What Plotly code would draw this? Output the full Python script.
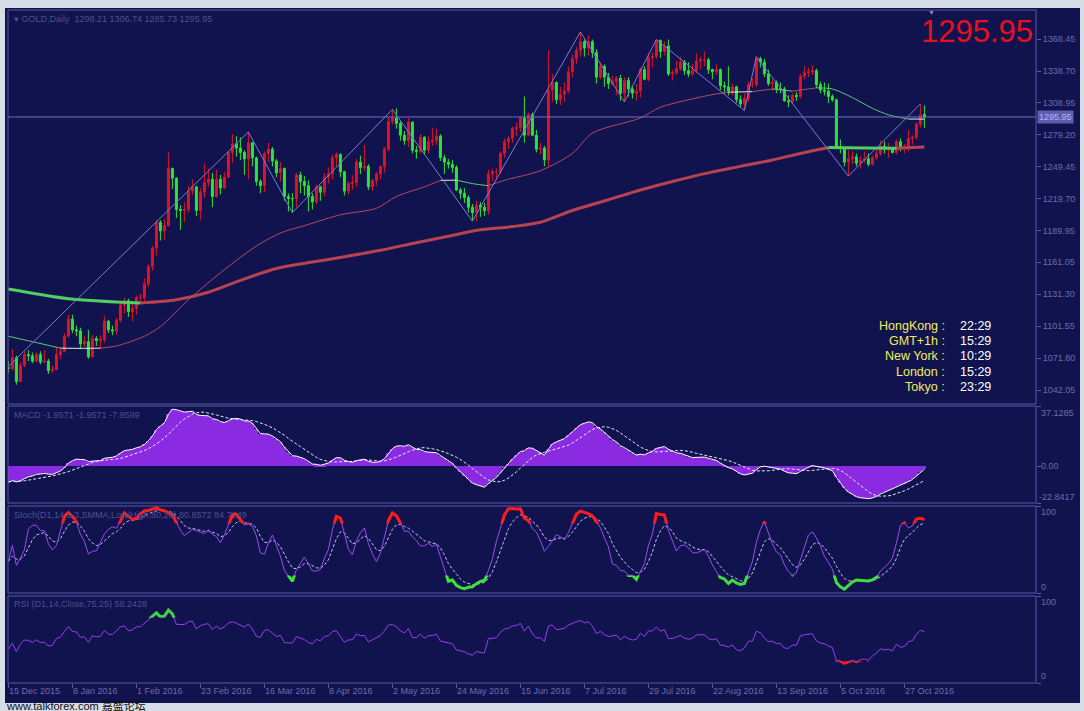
import plotly.graph_objects as go
import numpy as np
import pandas as pd

# ---------------- data ----------------
tick_labels = ["15 Dec 2015", "8 Jan 2016", "1 Feb 2016", "23 Feb 2016", "16 Mar 2016",
               "8 Apr 2016", "2 May 2016", "24 May 2016", "15 Jun 2016", "7 Jul 2016",
               "29 Jul 2016", "22 Aug 2016", "13 Sep 2016", "5 Oct 2016", "27 Oct 2016"]
tick_bars = [0, 16, 32, 48, 64, 80, 96, 112, 128, 144, 160, 176, 192, 208, 224]

open_ = [1063, 1062, 1072, 1050, 1065, 1075, 1074, 1069, 1075, 1068,
         1069, 1060, 1061, 1075, 1078, 1092, 1108, 1098, 1097, 1085,
         1087, 1073, 1090, 1088, 1089, 1106, 1098, 1097, 1107, 1121,
         1125, 1115, 1118, 1128, 1128, 1141, 1157, 1174, 1198, 1190,
         1195, 1248, 1239, 1210, 1209, 1210, 1227, 1231, 1209, 1226,
         1235, 1238, 1222, 1238, 1230, 1240, 1263, 1271, 1267, 1263,
         1257, 1272, 1258, 1236, 1232, 1262, 1266, 1255, 1244, 1248,
         1222, 1220, 1220, 1242, 1236, 1232, 1222, 1217, 1231, 1226,
         1240, 1243, 1258, 1261, 1245, 1227, 1234, 1235, 1254, 1249,
         1250, 1231, 1237, 1243, 1250, 1266, 1292, 1295, 1290, 1279,
         1274, 1291, 1265, 1264, 1277, 1265, 1273, 1274, 1278, 1258,
         1254, 1252, 1249, 1228, 1225, 1221, 1212, 1207, 1214, 1212,
         1209, 1243, 1245, 1245, 1262, 1273, 1276, 1285, 1286, 1295,
         1279, 1298, 1279, 1266, 1267, 1256, 1321, 1328, 1312, 1317,
         1320, 1338, 1350, 1358, 1366, 1360, 1366, 1356, 1333, 1343,
         1333, 1327, 1329, 1332, 1318, 1330, 1322, 1318, 1320, 1340,
         1331, 1351, 1352, 1367, 1357, 1362, 1336, 1337, 1341, 1347,
         1339, 1336, 1339, 1348, 1349, 1349, 1340, 1338, 1340, 1325,
         1324, 1320, 1324, 1312, 1308, 1313, 1326, 1326, 1350, 1347,
         1336, 1327, 1328, 1322, 1322, 1311, 1310, 1316, 1315, 1334,
         1337, 1338, 1339, 1326, 1321, 1320, 1315, 1312, 1268, 1267,
         1254, 1257, 1259, 1253, 1256, 1257, 1252, 1258, 1262, 1269,
         1266, 1267, 1263, 1273, 1267, 1268, 1276, 1277, 1289, 1298.21]
high = [1069, 1080, 1074, 1068, 1078, 1079, 1077, 1077, 1078, 1079,
        1071, 1065, 1082, 1081, 1095, 1112, 1112, 1102, 1100, 1092,
        1098, 1093, 1092, 1093, 1111, 1107, 1102, 1109, 1125, 1128,
        1127, 1125, 1130, 1132, 1146, 1159, 1176, 1200, 1200, 1201,
        1263, 1249, 1240, 1214, 1217, 1232, 1238, 1232, 1230, 1253,
        1248, 1244, 1247, 1242, 1245, 1264, 1280, 1278, 1277, 1265,
        1282, 1273, 1259, 1238, 1264, 1272, 1268, 1257, 1254, 1249,
        1225, 1225, 1244, 1245, 1241, 1237, 1225, 1233, 1232, 1244,
        1249, 1261, 1263, 1262, 1246, 1236, 1242, 1257, 1260, 1270,
        1252, 1238, 1245, 1251, 1268, 1296, 1303, 1304, 1292, 1283,
        1295, 1292, 1269, 1280, 1278, 1278, 1286, 1285, 1280, 1261,
        1257, 1256, 1251, 1230, 1230, 1223, 1215, 1218, 1217, 1216,
        1247, 1248, 1248, 1264, 1276, 1278, 1287, 1291, 1297, 1315,
        1300, 1300, 1284, 1272, 1269, 1358, 1336, 1329, 1324, 1328,
        1343, 1354, 1361, 1375, 1368, 1372, 1368, 1359, 1347, 1345,
        1337, 1334, 1334, 1335, 1333, 1333, 1325, 1327, 1342, 1343,
        1355, 1356, 1368, 1368, 1366, 1368, 1340, 1348, 1352, 1349,
        1347, 1345, 1355, 1352, 1357, 1351, 1341, 1345, 1341, 1329,
        1343, 1327, 1325, 1316, 1318, 1329, 1332, 1352, 1352, 1350,
        1340, 1331, 1330, 1328, 1324, 1316, 1318, 1319, 1336, 1343,
        1342, 1344, 1341, 1329, 1328, 1327, 1317, 1313, 1275, 1268,
        1265, 1264, 1262, 1260, 1264, 1262, 1260, 1266, 1274, 1273,
        1272, 1268, 1275, 1276, 1271, 1284, 1279, 1291, 1308, 1306.74]
low = [1058, 1060, 1047, 1049, 1063, 1069, 1067, 1068, 1066, 1067,
       1057, 1058, 1061, 1071, 1077, 1091, 1095, 1092, 1080, 1082,
       1071, 1072, 1083, 1080, 1086, 1095, 1093, 1094, 1105, 1113,
       1110, 1106, 1112, 1122, 1124, 1138, 1153, 1167, 1181, 1182,
       1194, 1229, 1202, 1191, 1198, 1207, 1223, 1204, 1200, 1221,
       1231, 1212, 1221, 1224, 1229, 1239, 1253, 1259, 1256, 1242,
       1238, 1250, 1232, 1225, 1226, 1254, 1250, 1240, 1236, 1218,
       1208, 1207, 1212, 1225, 1223, 1208, 1210, 1215, 1218, 1222,
       1234, 1238, 1250, 1240, 1223, 1224, 1228, 1231, 1243, 1246,
       1228, 1227, 1232, 1238, 1244, 1264, 1289, 1285, 1274, 1270,
       1268, 1262, 1257, 1262, 1261, 1262, 1269, 1270, 1255, 1243,
       1248, 1244, 1227, 1220, 1216, 1207, 1200, 1199, 1203, 1204,
       1205, 1236, 1239, 1243, 1258, 1266, 1272, 1278, 1282, 1272,
       1278, 1278, 1263, 1261, 1250, 1250, 1310, 1308, 1307, 1310,
       1318, 1333, 1345, 1352, 1352, 1353, 1351, 1327, 1331, 1324,
       1322, 1325, 1316, 1311, 1310, 1315, 1313, 1311, 1314, 1330,
       1329, 1342, 1350, 1351, 1353, 1334, 1330, 1335, 1339, 1335,
       1333, 1334, 1337, 1340, 1343, 1336, 1331, 1335, 1321, 1318,
       1316, 1316, 1309, 1305, 1302, 1310, 1323, 1324, 1342, 1333,
       1325, 1320, 1318, 1318, 1310, 1305, 1308, 1311, 1313, 1331,
       1333, 1335, 1323, 1318, 1316, 1309, 1310, 1266, 1262, 1250,
       1241, 1252, 1250, 1248, 1253, 1250, 1251, 1256, 1260, 1262,
       1258, 1262, 1261, 1264, 1262, 1264, 1270, 1275, 1286, 1285.73]
close = [1062, 1072, 1050, 1065, 1075, 1074, 1069, 1075, 1068, 1069,
         1060, 1061, 1075, 1078, 1092, 1108, 1098, 1097, 1085, 1087,
         1073, 1090, 1088, 1089, 1106, 1098, 1097, 1107, 1121, 1125,
         1115, 1118, 1128, 1128, 1141, 1157, 1174, 1198, 1190, 1195,
         1248, 1239, 1210, 1209, 1210, 1227, 1231, 1209, 1226, 1235,
         1238, 1222, 1238, 1230, 1240, 1263, 1271, 1267, 1263, 1257,
         1272, 1258, 1236, 1232, 1262, 1266, 1255, 1244, 1248, 1222,
         1220, 1220, 1242, 1236, 1232, 1222, 1217, 1231, 1226, 1240,
         1243, 1258, 1261, 1245, 1227, 1234, 1235, 1254, 1249, 1250,
         1231, 1237, 1243, 1250, 1266, 1292, 1295, 1290, 1279, 1274,
         1291, 1265, 1264, 1277, 1265, 1273, 1274, 1278, 1258, 1254,
         1252, 1249, 1228, 1225, 1221, 1212, 1207, 1214, 1212, 1209,
         1243, 1245, 1245, 1262, 1273, 1276, 1285, 1286, 1295, 1279,
         1298, 1279, 1266, 1267, 1256, 1321, 1328, 1312, 1317, 1320,
         1338, 1350, 1358, 1366, 1360, 1366, 1356, 1333, 1343, 1333,
         1327, 1329, 1332, 1318, 1330, 1322, 1318, 1320, 1340, 1331,
         1351, 1352, 1367, 1357, 1362, 1336, 1337, 1341, 1347, 1339,
         1336, 1339, 1348, 1349, 1349, 1340, 1338, 1340, 1325, 1324,
         1320, 1324, 1312, 1308, 1313, 1326, 1326, 1350, 1347, 1336,
         1327, 1328, 1322, 1322, 1311, 1310, 1316, 1315, 1334, 1337,
         1338, 1339, 1326, 1321, 1320, 1315, 1312, 1268, 1267, 1254,
         1257, 1259, 1253, 1256, 1257, 1252, 1258, 1262, 1269, 1266,
         1267, 1263, 1273, 1267, 1268, 1276, 1277, 1289, 1298, 1295.95]

# moving averages (bar index, value)
ma_slow_bar = [0, 15, 33, 42, 50, 58, 67, 76, 84, 93, 102, 110, 118, 126, 133, 141, 150,
               158, 166, 175, 183, 191, 198, 205, 214, 222, 229]
ma_slow_val = [1136, 1127, 1123, 1126, 1133, 1144, 1155, 1161, 1166, 1172, 1179, 1185,
               1191, 1194, 1198, 1209, 1219, 1228, 1236, 1244, 1250, 1256, 1262, 1267.5,
               1267.2, 1266.9, 1268]
ma_fast_bar = [0, 6, 13, 18, 23, 27, 34, 38, 45, 54, 62, 68, 75, 83, 92, 97, 104, 108, 112,
               116, 120, 124, 133, 141, 146, 158, 163, 175, 180, 186, 191, 196, 202, 206,
               211, 216, 220, 225, 229]
ma_fast_val = [1092, 1087, 1081, 1080.8, 1081, 1083, 1092, 1101, 1126, 1154, 1176, 1188, 1196,
               1205, 1211, 1222, 1231, 1237, 1237.2, 1234, 1232, 1237, 1246, 1262, 1281, 1295,
               1305, 1316, 1319, 1319.5, 1322, 1320, 1323, 1322, 1314, 1304, 1298, 1294, 1294]

# zigzag swing points
zz_bar = [0, 60, 71, 96, 116, 143, 154, 162, 184, 187, 210, 228]
zz_val = [1064, 1282, 1207, 1303, 1199, 1375, 1310, 1368, 1302, 1352, 1241, 1308]

price_ticks = [1368.45, 1338.70, 1308.95, 1279.20, 1249.45, 1219.70, 1189.95,
               1161.05, 1131.30, 1101.55, 1071.80, 1042.05]
last_price = 1295.95
macd_scale = [37.1285, 0.00, -22.8417]
macd_seed = (1070.0, 1080.0)          # fast / slow EMA at start
rsi_seed = (2.6, 4.0)                 # avg gain / avg loss at start

clock_names = ["HongKong :", "GMT+1h :", "New York :", "London :", "Tokyo :"]
clock_times = ["22:29", "15:29", "10:29", "15:29", "23:29"]

# ---------------- indicators ----------------
c = np.array(close, dtype=float)
h = np.array(high, dtype=float)
lo = np.array(low, dtype=float)
bars = np.arange(len(c))


def ema(vals, n, seed):
    k = 2.0 / (n + 1)
    out, prev = [], seed
    for v in vals:
        prev = prev + k * (v - prev)
        out.append(prev)
    return np.array(out)


macd = ema(c, 12, macd_seed[0]) - ema(c, 26, macd_seed[1])
signal = pd.Series(macd).rolling(9, min_periods=1).mean().values

hh = pd.Series(h).rolling(14, min_periods=1).max()
ll = pd.Series(lo).rolling(14, min_periods=1).min()
num = (pd.Series(c) - ll).rolling(3, min_periods=1).sum()
den = (hh - ll).rolling(3, min_periods=1).sum()
stoch = (100 * num / den).values
stoch_sig = []
prev = stoch[0]
for v in stoch:
    prev = (prev * 2 + v) / 3
    stoch_sig.append(prev)

ag, al = rsi_seed
rsi = []
prevc = open_[0]
for v in c:
    d = v - prevc
    prevc = v
    ag = (ag * 13 + max(d, 0)) / 14
    al = (al * 13 + max(-d, 0)) / 14
    rsi.append(100 - 100 / (1 + ag / al))

# ---------------- geometry ----------------
W, H = 1084, 711
L, R, T, B = 8, 1036, 10, 683


def px(x):
    return (x - L) / (R - L)


def py(y):
    return (B - y) / (B - T)


main_dom = [py(404), py(10)]
macd_dom = [py(503), py(406)]
stoch_dom = [py(593), py(506)]
rsi_dom = [py(683), py(596)]
xr = [-0.1, -0.1 + (R - L) / 4.0]

BG = "#11134f"
FRAME = "#d7dde7"
BORDER = "#5a5aa6"
LABEL = "#6c6cab"
DIM = "#50508e"
RED = "#de1428"
GREEN = "#2ee62e"
FONT = "Liberation Sans, Arial, sans-serif"

fig = go.Figure()


def runs(idx, val, thr):
    """group consecutive segments of equal slope direction into polylines"""
    out = {"up": ([], []), "down": ([], []), "flat": ([], [])}
    cur = None
    for a in range(len(idx) - 1):
        s = (val[a + 1] - val[a]) / (idx[a + 1] - idx[a])
        key = "up" if s > thr else ("down" if s < -thr else "flat")
        xs, ys = out[key]
        if key != cur:
            if xs:
                xs.append(None)
                ys.append(None)
            xs.append(idx[a])
            ys.append(val[a])
            cur = key
        xs.append(idx[a + 1])
        ys.append(val[a + 1])
    return out


slow = runs(ma_slow_bar, ma_slow_val, 0.0)
fast = runs(ma_fast_bar, ma_fast_val, 0.2)
for key, col in [("up", "#b8424f"), ("down", "#52cf62"), ("flat", "#e6e6c8")]:
    xs, ys = slow[key]
    if xs:
        fig.add_trace(go.Scatter(x=xs, y=ys, mode="lines",
                                 line=dict(color=col, width=3, shape="spline", smoothing=0.8),
                                 xaxis="x", yaxis="y", hoverinfo="skip"))
for key, col in [("up", "#b34a62"), ("down", "#5ccc6c"), ("flat", "#ecece0")]:
    xs, ys = fast[key]
    if xs:
        fig.add_trace(go.Scatter(x=xs, y=ys, mode="lines",
                                 line=dict(color=col, width=1, shape="spline", smoothing=0.8),
                                 xaxis="x", yaxis="y", hoverinfo="skip"))

# zigzag
fig.add_trace(go.Scatter(x=zz_bar, y=zz_val, mode="lines", line=dict(color="#7b7bcc", width=1),
                         xaxis="x", yaxis="y", hoverinfo="skip"))

# candles
fig.add_trace(go.Candlestick(
    x=bars, open=open_, high=high, low=low, close=close,
    increasing=dict(line=dict(color=RED, width=1), fillcolor=RED),
    decreasing=dict(line=dict(color=GREEN, width=1), fillcolor=GREEN),
    whiskerwidth=0, xaxis="x", yaxis="y", hoverinfo="skip"))

# MACD
fig.add_trace(go.Bar(x=bars, y=macd, width=1.0, marker=dict(color="#8a2be2", line=dict(width=0)),
                     xaxis="x2", yaxis="y2", hoverinfo="skip"))
fig.add_trace(go.Scatter(x=bars, y=macd, mode="lines", line=dict(color="#ffffff", width=1),
                         xaxis="x2", yaxis="y2", hoverinfo="skip"))
fig.add_trace(go.Scatter(x=bars, y=signal, mode="lines",
                         line=dict(color="#e8e8ff", width=1, dash="3px,2px"),
                         xaxis="x2", yaxis="y2", hoverinfo="skip"))

# Stochastic
fig.add_trace(go.Scatter(x=bars, y=stoch_sig, mode="lines",
                         line=dict(color="#c8c0ff", width=1, dash="3px,2px"),
                         xaxis="x3", yaxis="y3", hoverinfo="skip"))
fig.add_trace(go.Scatter(x=bars, y=stoch, mode="lines", line=dict(color="#9a4cf0", width=1),
                         xaxis="x3", yaxis="y3", hoverinfo="skip"))
fig.add_trace(go.Scatter(x=bars, y=stoch, mode="lines", line=dict(color="#ff1c1c", width=3),
                         xaxis="x3", yaxis="y5", hoverinfo="skip"))
fig.add_trace(go.Scatter(x=bars, y=stoch, mode="lines", line=dict(color="#3ee03e", width=3),
                         xaxis="x3", yaxis="y6", hoverinfo="skip"))

# RSI
fig.add_trace(go.Scatter(x=bars, y=rsi, mode="lines", line=dict(color="#9a3cf0", width=1),
                         xaxis="x4", yaxis="y4", hoverinfo="skip"))
fig.add_trace(go.Scatter(x=bars, y=rsi, mode="lines", line=dict(color="#46d046", width=3),
                         xaxis="x4", yaxis="y7", hoverinfo="skip"))
fig.add_trace(go.Scatter(x=bars, y=rsi, mode="lines", line=dict(color="#ff1c1c", width=3),
                         xaxis="x4", yaxis="y8", hoverinfo="skip"))

xcommon = dict(range=xr, showgrid=False, zeroline=False, showline=False,
               showticklabels=False, fixedrange=True, domain=[0, 1])
tickfont = dict(family=FONT, size=9, color=LABEL)
ycommon = dict(showgrid=False, zeroline=False, showline=False, side="right", ticks="outside",
               ticklen=4, tickcolor=BORDER, tickfont=tickfont, fixedrange=True)


def band(dom, f0, f1):
    return [dom[0] + f0 * (dom[1] - dom[0]), dom[0] + f1 * (dom[1] - dom[0])]


fig.update_layout(
    width=W, height=H, autosize=False,
    margin=dict(l=L, r=W - R, t=T, b=H - B),
    paper_bgcolor=FRAME, plot_bgcolor="rgba(0,0,0,0)",
    showlegend=False, bargap=0,
    xaxis=dict(anchor="y", rangeslider=dict(visible=False), **xcommon),
    xaxis2=dict(anchor="y2", **xcommon),
    xaxis3=dict(anchor="y3", **xcommon),
    xaxis4=dict(anchor="y4", ticks="outside", tickvals=tick_bars, ticklen=4,
                tickcolor=BORDER, **xcommon),
    yaxis=dict(domain=main_dom, anchor="x", range=[1029.05, 1395.42], tickvals=price_ticks,
               ticktext=[f"{v:.2f}" for v in price_ticks], **ycommon),
    yaxis2=dict(domain=macd_dom, anchor="x2", range=[macd_scale[2], macd_scale[0]],
                tickvals=macd_scale, showticklabels=False, **ycommon),
    yaxis3=dict(domain=stoch_dom, anchor="x3", range=[0, 100], tickvals=[0, 100],
                showticklabels=False, **ycommon),
    yaxis4=dict(domain=rsi_dom, anchor="x4", range=[0, 100], tickvals=[0, 100],
                showticklabels=False, **ycommon),
    yaxis5=dict(domain=band(stoch_dom, 0.8, 1.0), anchor="x3", range=[80, 100], visible=False),
    yaxis6=dict(domain=band(stoch_dom, 0.0, 0.2), anchor="x3", range=[0, 20], visible=False),
    yaxis7=dict(domain=band(rsi_dom, 0.75, 1.0), anchor="x4", range=[75, 100], visible=False),
    yaxis8=dict(domain=band(rsi_dom, 0.0, 0.25), anchor="x4", range=[0, 25], visible=False),
)

shapes = []
# dark window background
shapes.append(dict(type="rect", xref="paper", yref="paper", x0=px(5), x1=px(1080),
                   y0=py(703), y1=py(8), fillcolor=BG, line=dict(width=0), layer="below"))
# panel borders
for top, bot in [(10, 404), (406, 503), (506, 593), (596, 683)]:
    shapes.append(dict(type="rect", xref="paper", yref="paper", x0=0, x1=1,
                       y0=py(bot), y1=py(top), line=dict(color=BORDER, width=1),
                       fillcolor="rgba(0,0,0,0)"))
# current price line
shapes.append(dict(type="line", xref="paper", yref="y", x0=0, x1=1, y0=last_price,
                   y1=last_price, line=dict(color="#7070c4", width=1)))
fig.update_layout(shapes=shapes)

ann = []


def text(x, y, s, size=9, color=LABEL, xanchor="left", family=FONT, **kw):
    ann.append(dict(xref="paper", yref="paper", x=px(x), y=py(y), text=s, showarrow=False,
                    xanchor=xanchor, yanchor="middle", font=dict(family=family, size=size,
                                                                  color=color), **kw))


text(12, 19, "\u25be GOLD,Daily\u00a0\u00a0" + " ".join(f"{v:.2f}" for v in
     [open_[-1], high[-1], low[-1], close[-1]]), color=DIM)
text(12, 415, "MACD -1.9571 -1.9571 -7.9599", color=DIM)
text(12, 515, "Stoch(D1,14,3,3,SMMA,Low/High,80,20) 80.8572 84.7249", color=DIM)
text(12, 604, "RSI (D1,14,Close,75,25) 58.2428", color=DIM)

# right scale labels of sub windows
text(1039, 413, f"{macd_scale[0]:.4f}")
text(1039, 466, f"{macd_scale[1]:.2f}")
text(1037, 497, f"{macd_scale[2]:.4f}")
text(1039, 512, "100")
text(1039, 587, "0")
text(1039, 602, "100")
text(1039, 676, "0")

# current price box
ann.append(dict(xref="paper", yref="y", x=px(1037), y=last_price, text=f"{last_price:.2f}",
                showarrow=False, xanchor="left", yanchor="middle", bgcolor="#5d5db2",
                borderpad=1, font=dict(family=FONT, size=9, color="#b4b4ee")))

# big price
text(1035, 31, f"{last_price:.2f}", size=31, color="#e8101c", xanchor="right")
# shift marker
text(931, 13, "\u25bc", size=7, color="#8c8cb0", xanchor="center")

# clock
for k, (nm, tm) in enumerate(zip(clock_names, clock_times)):
    yy = 326 + 15.2 * k
    text(947, yy, nm, size=12.5, color="#f0f05a", xanchor="right")
    text(958, yy, tm, size=12.5, color="#ffffff")

# date labels
for b, lab in zip(tick_bars, tick_labels):
    ann.append(dict(xref="x4", yref="paper", x=b, y=py(691), text=lab, showarrow=False,
                    xanchor="left", yanchor="middle", xshift=-1,
                    font=dict(family=FONT, size=9, color=LABEL)))

# watermark
text(4, 705, "www.talkforex.com \u5609\u76db\u8bba\u575b", size=11, color="#101010",
     family="Liberation Sans, Noto Sans CJK SC, sans-serif")

fig.update_layout(annotations=ann)
fig.write_html("out.html")
